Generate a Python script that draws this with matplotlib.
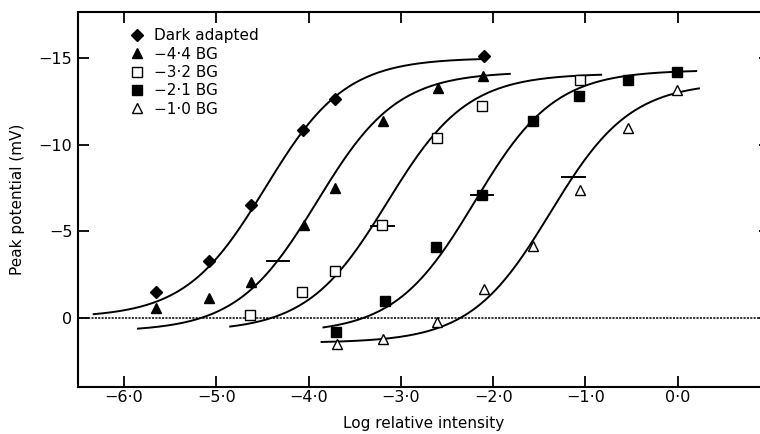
import numpy as np
import matplotlib
matplotlib.use('Agg')
import matplotlib.pyplot as plt

plt.rcParams['font.family'] = ['DejaVu Sans']

# measured responses (log relative intensity, peak potential in mV)
dark_x = [-5.65, -5.08, -4.63, -4.06, -3.71, -2.10]
dark_y = [-1.47, -3.25, -6.50, -10.85, -12.62, -15.1]
bg44_x = [-5.65, -5.08, -4.62, -4.05, -3.72, -3.19, -2.60, -2.11]
bg44_y = [-0.56, -1.13, -2.06, -5.37, -7.48, -11.38, -13.29, -13.93]
bg32_x = [-4.64, -4.07, -3.71, -3.20, -2.61, -2.12, -1.06]
bg32_y = [-0.17, -1.46, -2.67, -5.33, -10.37, -12.25, -13.73]
bg21_x = [-3.70, -3.17, -2.62, -2.12, -1.57, -1.07, -0.54, -0.01]
bg21_y = [0.81, -0.94, -4.08, -7.10, -11.38, -12.81, -13.71, -14.21]
bg10_x = [-3.69, -3.19, -2.61, -2.10, -1.57, -1.06, -0.54, -0.01]
bg10_y = [1.54, 1.23, 0.25, -1.67, -4.12, -7.38, -10.96, -13.16]

labels = ['Dark adapted', '\u22124\u00b74 BG', '\u22123\u00b72 BG',
          '\u22122\u00b71 BG', '\u22121\u00b70 BG']

# fitted curves V = base + (vmax - base) * I / (I + sigma)
curve_base = [0.0, 0.8, 0.8, 0.9, 1.45]
curve_vmax = [-15.0, -14.2, -14.1, -14.3, -13.6]
curve_logsig = [-4.47, -3.91, -3.15, -2.20, -1.38]
curve_start = [-6.33, -5.85, -4.85, -3.84, -3.86]
curve_end = [-2.12, -1.82, -0.83, 0.20, 0.23]

# background intensity marks on the curves
bar_x = [-4.33, -3.20, -2.12, -1.13]
bar_y = [-3.30, -5.31, -7.06, -8.12]

xticks = [-6, -5, -4, -3, -2, -1, 0]
xticklabels = ['\u22126\u00b70', '\u22125\u00b70', '\u22124\u00b70', '\u22123\u00b70',
               '\u22122\u00b70', '\u22121\u00b70', '0\u00b70']
yticks = [-15, -10, -5, 0]
yticklabels = ['\u221215', '\u221210', '\u22125', '0']

fig = plt.figure(figsize=(7.6, 4.34), dpi=100)
ax = fig.add_axes([78 / 760, 47 / 434, 692 / 760, 375 / 434])

ax.axhline(0, color='k', lw=1.1, ls=(0, (1.4, 0.8)), zorder=1)

for base, vmax, ls, x0, x1 in zip(curve_base, curve_vmax, curve_logsig,
                                  curve_start, curve_end):
    xs = np.linspace(x0, x1, 200)
    inten = 10.0 ** xs
    sig = 10.0 ** ls
    ax.plot(xs, base + (vmax - base) * inten / (inten + sig), color='k', lw=1.4, zorder=2)

for bx, by in zip(bar_x, bar_y):
    ax.plot([bx - 0.12, bx + 0.12], [by, by], color='k', lw=1.4, zorder=2)

mk = dict(ls='none', mec='k', mew=1.0, zorder=3)
ax.plot(dark_x, dark_y, marker='D', ms=6.2, mfc='k', label=labels[0], **mk)
ax.plot(bg44_x, bg44_y, marker='^', ms=7, mfc='k', label=labels[1], **mk)
ax.plot(bg32_x, bg32_y, marker='s', ms=7, mfc='white', label=labels[2], **mk)
ax.plot(bg21_x, bg21_y, marker='s', ms=7.5, mfc='k', label=labels[3], **mk)
ax.plot(bg10_x, bg10_y, marker='^', ms=7, mfc='white', label=labels[4], **mk)

ax.set_xlim(-6.5, 1.0)
ax.set_ylim(4.0, -17.65)
ax.set_xticks(xticks)
ax.set_xticklabels(xticklabels)
ax.set_yticks(yticks)
ax.set_yticklabels(yticklabels)
ax.tick_params(direction='in', length=8, width=1.3, top=True, right=True,
               labelsize=11.5)
ax.tick_params(axis='x', pad=2)
ax.tick_params(axis='y', pad=4)
for sp in ax.spines.values():
    sp.set_linewidth(1.5)

ax.set_xlabel('Log relative intensity', fontsize=11, labelpad=8)
ax.set_ylabel('Peak potential (mV)', fontsize=11, labelpad=10)

ax.legend(loc='upper left', bbox_to_anchor=(0.059, 0.985), frameon=False,
          numpoints=1, handlelength=1.0, handletextpad=0.6, labelspacing=0.22,
          fontsize=11, borderaxespad=0.3)

fig.savefig('out.png', dpi=100)
